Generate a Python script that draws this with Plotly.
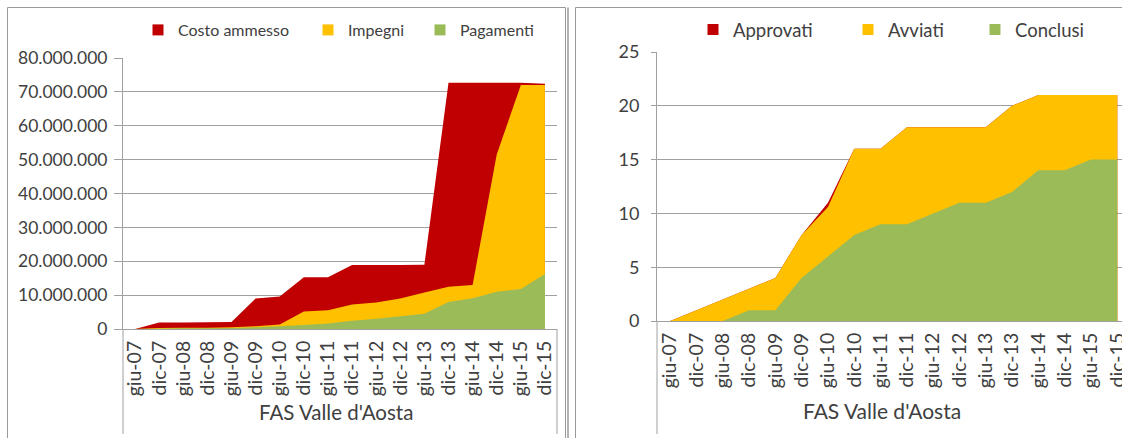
import plotly.graph_objects as go

# semesters (shared by both panels)
periodi = ["giu-07", "dic-07", "giu-08", "dic-08", "giu-09", "dic-09", "giu-10", "dic-10", "giu-11",
           "dic-11", "giu-12", "dic-12", "giu-13", "dic-13", "giu-14", "dic-14", "giu-15", "dic-15"]

# left panel, euros
costo_ammesso = [0, 1900000, 1900000, 2000000, 2100000, 9000000, 9600000, 15300000, 15300000,
                 18900000, 18900000, 18900000, 19000000, 72700000, 72700000, 72700000, 72700000, 72400000]
impegni = [0, 300000, 400000, 400000, 500000, 800000, 1300000, 5200000, 5500000,
           7200000, 7800000, 9000000, 10800000, 12500000, 13000000, 51500000, 72000000, 72000000]
pagamenti = [0, 100000, 200000, 200000, 300000, 500000, 800000, 1200000, 1600000,
             2400000, 3000000, 3800000, 4500000, 8000000, 9100000, 11000000, 11800000, 16200000]

# right panel, number of projects
approvati = [0, 1, 2, 3, 4, 8, 11, 16, 16, 18, 18, 18, 18, 20, 21, 21, 21, 21]
avviati = [0, 1, 2, 3, 4, 8, 10.6, 16, 16, 18, 18, 18, 18, 20, 21, 21, 21, 21]
conclusi = [0, 0, 0, 1, 1, 4, 6, 8, 9, 9, 10, 11, 11, 12, 14, 14, 15, 15]

ROSSO = "#C00000"
GIALLO = "#FFC000"
VERDE = "#9BBB59"
GRIGIO = "#A0A0A0"
TESTO = "#404040"
FONT = "Lato"

W, H = 1122, 438


def px_x(v):
    return v / W


def px_y(v):
    return (H - v) / H


fig = go.Figure()

series_sx = [("Costo ammesso", costo_ammesso, ROSSO),
             ("Impegni", impegni, GIALLO),
             ("Pagamenti", pagamenti, VERDE)]
series_dx = [("Approvati", approvati, ROSSO),
             ("Avviati", avviati, GIALLO),
             ("Conclusi", conclusi, VERDE)]

for nome, vals, col in series_sx:
    fig.add_trace(go.Scatter(x=periodi, y=vals, mode="none", fill="tozeroy", fillcolor=col,
                             xaxis="x", yaxis="y", showlegend=False, hoverinfo="skip"))
for nome, vals, col in series_dx:
    fig.add_trace(go.Scatter(x=periodi, y=vals, mode="none", fill="tozeroy", fillcolor=col,
                             xaxis="x2", yaxis="y2", showlegend=False, hoverinfo="skip"))

# legend swatches, one legend per entry so each can sit where the original has it
# (pixel where the entry text starts, font size)
leg_pos = [(180, 16), (350, 16), (462, 16), (735, 18.5), (890, 18.5), (1017, 18.5)]
legends = {}
for i, ((nome, vals, col), (lx, fs)) in enumerate(zip(series_sx + series_dx, leg_pos)):
    key = "legend" if i == 0 else "legend%d" % (i + 1)
    fig.add_trace(go.Scatter(x=[None], y=[None], mode="markers", name=nome,
                             marker=dict(symbol="square", size=11, color=col),
                             xaxis="x" if i < 3 else "x2", yaxis="y" if i < 3 else "y2",
                             legend=key, showlegend=True, hoverinfo="skip"))
    legends[key] = dict(x=px_x(lx - 42), y=px_y(30), xanchor="left", yanchor="middle",
                        orientation="h", bgcolor="rgba(0,0,0,0)",
                        font=dict(family=FONT, size=fs, color=TESTO))

n = len(periodi)
bordi = [i - 0.5 for i in range(n + 1)]

common_y = dict(showline=True, linecolor=GRIGIO, gridcolor=GRIGIO, gridwidth=1, zeroline=False,
                ticks="outside", tickcolor=GRIGIO, fixedrange=True, automargin=False)
common_x = dict(type="category", showline=True, linecolor=GRIGIO, showgrid=False, ticks="",
                tickangle=-90, ticklabelstandoff=3, fixedrange=True, automargin=False)
sep_x = dict(ticks="outside", ticklen=64, tickcolor=GRIGIO, showticklabels=False, showgrid=False,
             zeroline=False, fixedrange=True, automargin=False, tickvals=bordi)

fig.update_layout(
    width=W, height=H,
    margin=dict(l=0, r=0, t=0, b=0, autoexpand=False),
    paper_bgcolor="white", plot_bgcolor="white",
    separators=",.",
    font=dict(family=FONT, color=TESTO),
    xaxis=dict(common_x, domain=[px_x(123), px_x(557)], range=[-0.5, n - 0.5], anchor="y",
               tickfont=dict(size=19.5)),
    yaxis=dict(common_y, domain=[px_y(329), px_y(58)], range=[0, 80000000], dtick=10000000,
               tickformat=",d", ticklen=8, ticklabelstandoff=3, anchor="x",
               tickfont=dict(size=17.5)),
    xaxis2=dict(common_x, domain=[px_x(657), 1.0], range=[-0.5, 17.18], anchor="y2",
                tickfont=dict(size=19.5)),
    yaxis2=dict(common_y, domain=[px_y(321), px_y(52)], range=[0, 25], dtick=5,
                ticklen=5, ticklabelstandoff=8, anchor="x2", tickfont=dict(size=18)),
    # category separators below the axes
    xaxis3=dict(sep_x, overlaying="x", anchor="y", range=[-0.5, n - 0.5]),
    xaxis4=dict(sep_x, overlaying="x2", anchor="y2", range=[-0.5, 17.18], ticklen=62),
    **legends,
)

# outer brackets of the two-level category axis
for xr, xs, y0 in [("x domain", [0, 1], 329), ("x2 domain", [0], 321)]:
    for xv in xs:
        fig.add_shape(type="line", xref=xr, yref="paper", x0=xv, x1=xv,
                      y0=px_y(y0), y1=px_y(434), line=dict(color=GRIGIO, width=1))

# group label
fig.add_annotation(text="FAS Valle d'Aosta", xref="x domain", yref="paper", x=0.49, y=px_y(412),
                   yanchor="middle", showarrow=False, font=dict(family=FONT, size=20.5, color=TESTO))
fig.add_annotation(text="FAS Valle d'Aosta", xref="x2 domain", yref="paper", x=0.484, y=px_y(410),
                   yanchor="middle", showarrow=False, font=dict(family=FONT, size=21, color=TESTO))

# chart frames
fig.add_shape(type="rect", xref="paper", yref="paper", x0=px_x(7.5), x1=px_x(565.5),
              y0=-0.1, y1=px_y(7.5), line=dict(color="#9A9A9A", width=1))
fig.add_shape(type="line", xref="paper", yref="paper", x0=px_x(568), x1=px_x(568),
              y0=-0.1, y1=px_y(7.5), line=dict(color="#9A9A9A", width=1.5))
fig.add_shape(type="rect", xref="paper", yref="paper", x0=px_x(575.5), x1=1.1,
              y0=-0.1, y1=px_y(7.5), line=dict(color="#9A9A9A", width=1))

fig.write_html("out.html", config={"displayModeBar": False},
               post_script="document.body.style.margin = '0';")
